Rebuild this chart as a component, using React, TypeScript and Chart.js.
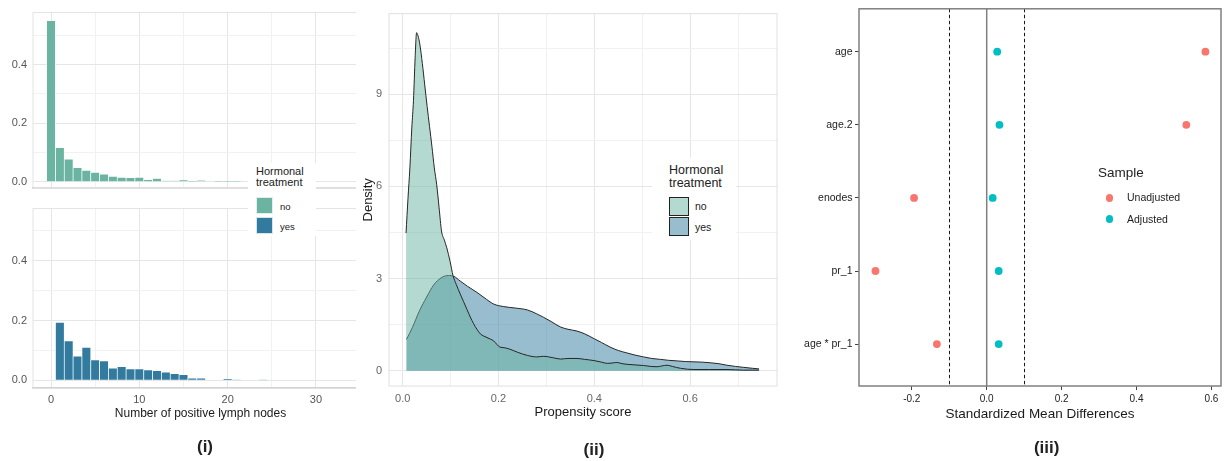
import React, { useEffect, useRef } from 'react';
import { Chart, registerables } from 'chart.js';

Chart.register(...registerables);

const FONT = '"Liberation Sans", Arial, Helvetica, sans-serif';
Chart.defaults.font.family = FONT;

// ---------- Panel (i): histograms of positive lymph nodes ----------
const lymphNodes = [0, 1, 2, 3, 4, 5, 6, 7, 8, 9, 10, 11, 12, 13, 14, 15, 16, 17, 18, 19, 20, 21, 22, 23, 24];
const freqNo = [0.55, 0.116, 0.077, 0.048, 0.039, 0.032, 0.026, 0.018, 0.015, 0.014, 0.015, 0.007, 0.011, 0.003, 0.003, 0.006, 0.001, 0.004, 0, 0.001, 0.001, 0.001, 0, 0, 0.001];
const freqYes = [0, 0.194, 0.132, 0.081, 0.11, 0.068, 0.065, 0.041, 0.046, 0.038, 0.038, 0.035, 0.032, 0.027, 0.022, 0.019, 0.007, 0.007, 0, 0, 0.004, 0.001, 0, 0, 0.001];
const lymphXMajor = [0, 10, 20, 30];
const lymphXMinor = [5, 15, 25, 35];
const histYMajor = [0, 0.2, 0.4];
const histYMinor = [0.1, 0.3, 0.5];
const treatmentLabels = ['no', 'yes'];

// ---------- Panel (ii): propensity score densities ----------
const psNoX = [0.007, 0.011, 0.015, 0.019, 0.0225, 0.026, 0.029, 0.032, 0.036, 0.041, 0.046, 0.051, 0.056, 0.061, 0.066, 0.071, 0.076, 0.081, 0.087, 0.092, 0.099, 0.105, 0.112, 0.12, 0.127, 0.134, 0.141, 0.148, 0.155, 0.162, 0.169, 0.176, 0.183, 0.19, 0.197, 0.203, 0.212, 0.224, 0.24, 0.26, 0.28, 0.294, 0.315, 0.33, 0.345, 0.364, 0.38, 0.4, 0.415, 0.427, 0.437, 0.447, 0.458, 0.468, 0.485, 0.503, 0.518, 0.531, 0.542, 0.552, 0.563, 0.58, 0.608, 0.64, 0.677, 0.712, 0.744];
const psNoY = [4.48, 5.6, 6.6, 7.9, 8.8, 10.2, 11.0, 10.9, 10.6, 10.0, 9.3, 8.6, 7.95, 7.3, 6.6, 6.05, 5.3, 4.55, 4.25, 4.0, 3.55, 3.1, 2.8, 2.5, 2.25, 2.0, 1.75, 1.53, 1.35, 1.2, 1.13, 1.08, 1.03, 0.97, 0.85, 0.77, 0.75, 0.7, 0.6, 0.5, 0.45, 0.47, 0.42, 0.38, 0.4, 0.4, 0.37, 0.33, 0.28, 0.24, 0.25, 0.27, 0.23, 0.21, 0.19, 0.17, 0.14, 0.13, 0.16, 0.18, 0.14, 0.08, 0.04, 0.04, 0.04, 0.02, 0.02];
const psYesX = [0.008, 0.02, 0.035, 0.05, 0.065, 0.08, 0.095, 0.107, 0.12, 0.135, 0.155, 0.17, 0.19, 0.21, 0.235, 0.26, 0.28, 0.294, 0.31, 0.33, 0.345, 0.364, 0.38, 0.4, 0.415, 0.433, 0.45, 0.468, 0.485, 0.503, 0.52, 0.538, 0.555, 0.573, 0.59, 0.608, 0.625, 0.642, 0.66, 0.677, 0.695, 0.712, 0.73, 0.744];
const psYesY = [1.02, 1.4, 1.95, 2.4, 2.8, 3.02, 3.1, 3.07, 2.92, 2.75, 2.55, 2.38, 2.17, 2.09, 2.04, 1.98, 1.85, 1.74, 1.6, 1.42, 1.35, 1.29, 1.2, 1.04, 0.92, 0.77, 0.66, 0.58, 0.51, 0.45, 0.4, 0.37, 0.34, 0.32, 0.3, 0.29, 0.28, 0.26, 0.23, 0.18, 0.14, 0.11, 0.08, 0.06];
const psXMajor = [0, 0.2, 0.4, 0.6];
const psXMinor = [0.1, 0.3, 0.5, 0.7];
const densYMajor = [0, 3, 6, 9];
const densYMinor = [1.5, 4.5, 7.5, 10.5];

// ---------- Panel (iii): love plot ----------
const covariates = ['age', 'age.2', 'enodes', 'pr_1', 'age * pr_1'];
const smdUnadjusted = [0.584, 0.533, -0.194, -0.297, -0.133];
const smdAdjusted = [0.028, 0.034, 0.016, 0.032, 0.032];
const smdTicks = [-0.2, 0, 0.2, 0.4, 0.6];
const smdThresholds = [-0.1, 0.1];
const sampleLabels = ['Unadjusted', 'Adjusted'];

// ---------- colours ----------
const COL_NO = '#6ab4a1';
const COL_YES = '#327b9f';
const FILL_NO = 'rgba(105,179,162,0.5)';
const FILL_YES = 'rgba(50,123,159,0.5)';
const COL_UNADJ = '#F8766D';
const COL_ADJ = '#00BFC4';
const GRID_MAJOR = '#e6e6e6';
const GRID_MINOR = '#f1f1f1';

const setTicks = (vals: number[]) => (scale: any) => {
  scale.ticks = vals.slice().sort((a, b) => a - b).map((v) => ({ value: v }));
};
const gridColor = (major: number[]) => (ctx: any) =>
  ctx.tick && major.includes(ctx.tick.value) ? GRID_MAJOR : GRID_MINOR;

const panelBox = {
  id: 'panelBox',
  beforeDatasetsDraw(chart: any, _a: any, opts: any) {
    if (!opts || !opts.color) return;
    const { ctx, chartArea: a } = chart;
    ctx.save();
    ctx.strokeStyle = opts.color;
    ctx.lineWidth = opts.width || 1;
    ctx.strokeRect(a.left, a.top, a.right - a.left, a.bottom - a.top);
    ctx.restore();
  },
};

const smdRefLines = {
  id: 'smdRefLines',
  beforeDatasetsDraw(chart: any) {
    const { ctx, chartArea: a, scales } = chart;
    const x = scales.x;
    ctx.save();
    const x0 = x.getPixelForValue(0);
    ctx.strokeStyle = '#808080';
    ctx.lineWidth = 1.5;
    ctx.beginPath();
    ctx.moveTo(x0, a.top);
    ctx.lineTo(x0, a.bottom);
    ctx.stroke();
    ctx.strokeStyle = '#1a1a1a';
    ctx.lineWidth = 1;
    ctx.setLineDash([3.5, 2.5]);
    smdThresholds.forEach((t) => {
      const px = Math.round(x.getPixelForValue(t)) + 0.5;
      ctx.beginPath();
      ctx.moveTo(px, a.top);
      ctx.lineTo(px, a.bottom);
      ctx.stroke();
    });
    ctx.restore();
  },
  afterDatasetsDraw(chart: any) {
    const { ctx, chartArea: a } = chart;
    ctx.save();
    ctx.strokeStyle = '#808080';
    ctx.lineWidth = 1.5;
    ctx.strokeRect(a.left, a.top, a.right - a.left, a.bottom - a.top);
    ctx.restore();
  },
};

function histConfig(values: number[], color: string, top: number, showX: boolean, yMin: number, yMax: number, H: number, B: number): any {
  return {
    type: 'bar',
    data: {
      datasets: [
        {
          data: lymphNodes.map((n, i) => ({ x: n, y: values[i] })),
          backgroundColor: color,
          borderColor: 'rgba(255,255,255,0.9)',
          borderWidth: 0.7,
          barPercentage: 1,
          categoryPercentage: 1,
        },
      ],
    },
    plugins: [panelBox],
    options: {
      responsive: false,
      animation: false,
      events: [],
      layout: { padding: { left: 0, top, right: 2, bottom: 0 } },
      plugins: {
        legend: { display: false },
        tooltip: { enabled: false },
        panelBox: { color: '#e3e3e3', width: 1 },
      },
      scales: {
        x: {
          type: 'linear',
          min: -2.04,
          max: 35.89,
          offset: false,
          afterBuildTicks: setTicks([...lymphXMajor, ...lymphXMinor]),
          afterFit: (s: any) => {
            s.height = H - B;
          },
          grid: { color: gridColor(lymphXMajor), drawTicks: false, offset: false },
          border: { display: true, color: '#c2c2c2', width: 1.5 },
          ticks: {
            display: showX,
            autoSkip: false,
            maxRotation: 0,
            padding: 5,
            color: '#555',
            font: { size: 11 },
            callback: (v: number) => (lymphXMajor.includes(v) ? String(v) : ''),
          },
          title: {
            display: showX,
            text: 'Number of positive lymph nodes',
            color: '#1a1a1a',
            font: { size: 12 },
            padding: { top: 0, bottom: 40 },
          },
        },
        y: {
          type: 'linear',
          min: yMin,
          max: yMax,
          afterBuildTicks: setTicks([...histYMajor, ...histYMinor]),
          afterFit: (s: any) => {
            s.width = 33;
          },
          grid: { color: gridColor(histYMajor), drawTicks: false },
          border: { display: false },
          ticks: {
            autoSkip: false,
            padding: 6,
            color: '#555',
            font: { size: 11 },
            callback: (v: number) => (histYMajor.includes(v) ? v.toFixed(1) : ''),
          },
        },
      },
    },
  };
}

function densityConfig(): any {
  return {
    type: 'line',
    data: {
      datasets: [
        {
          label: treatmentLabels[0],
          data: psNoX.map((x, i) => ({ x, y: psNoY[i] })),
          borderColor: '#262626',
          borderWidth: 1,
          backgroundColor: FILL_NO,
          fill: 'origin',
          pointRadius: 0,
          cubicInterpolationMode: 'monotone',
        },
        {
          label: treatmentLabels[1],
          data: psYesX.map((x, i) => ({ x, y: psYesY[i] })),
          borderColor: '#262626',
          borderWidth: 1,
          backgroundColor: FILL_YES,
          fill: 'origin',
          pointRadius: 0,
          cubicInterpolationMode: 'monotone',
        },
      ],
    },
    plugins: [panelBox],
    options: {
      responsive: false,
      animation: false,
      events: [],
      layout: { padding: { left: 0, top: 12, right: 3, bottom: 0 } },
      plugins: {
        legend: { display: false },
        tooltip: { enabled: false },
        panelBox: { color: '#e0e0e0', width: 1 },
      },
      scales: {
        x: {
          type: 'linear',
          min: -0.0286,
          max: 0.7814,
          afterBuildTicks: setTicks([...psXMajor, ...psXMinor]),
          afterFit: (s: any) => {
            s.height = 44;
          },
          grid: { color: gridColor(psXMajor), drawTicks: false },
          border: { display: false },
          ticks: {
            autoSkip: false,
            maxRotation: 0,
            padding: 6,
            color: '#666',
            font: { size: 11 },
            callback: (v: number) => (psXMajor.includes(v) ? v.toFixed(1) : ''),
          },
          title: {
            display: true,
            text: 'Propensity score',
            color: '#1a1a1a',
            font: { size: 13 },
            padding: { top: 0, bottom: 9.5 },
          },
        },
        y: {
          type: 'linear',
          min: -0.496,
          max: 11.62,
          afterBuildTicks: setTicks([...densYMajor, ...densYMinor]),
          afterFit: (s: any) => {
            s.width = 33;
          },
          grid: { color: gridColor(densYMajor), drawTicks: false },
          border: { display: false },
          ticks: {
            autoSkip: false,
            padding: 7,
            color: '#666',
            font: { size: 11 },
            callback: (v: number) => (densYMajor.includes(v) ? String(v) : ''),
          },
          title: {
            display: true,
            text: 'Density',
            color: '#1a1a1a',
            font: { size: 13 },
            padding: { top: 4.5, bottom: 0 },
          },
        },
      },
    },
  };
}

function loveConfig(): any {
  return {
    type: 'scatter',
    data: {
      datasets: [
        {
          label: sampleLabels[0],
          data: smdUnadjusted.map((v, i) => ({ x: v, y: i })),
          backgroundColor: COL_UNADJ,
          borderWidth: 0,
          pointRadius: 3.9,
        },
        {
          label: sampleLabels[1],
          data: smdAdjusted.map((v, i) => ({ x: v, y: i })),
          backgroundColor: COL_ADJ,
          borderWidth: 0,
          pointRadius: 3.9,
        },
      ],
    },
    plugins: [smdRefLines],
    options: {
      responsive: false,
      animation: false,
      events: [],
      layout: { padding: { left: 0, top: 8, right: 6, bottom: 0 } },
      plugins: { legend: { display: false }, tooltip: { enabled: false } },
      scales: {
        x: {
          type: 'linear',
          min: -0.341,
          max: 0.6256,
          afterBuildTicks: setTicks(smdTicks),
          afterFit: (s: any) => {
            s.height = 75;
          },
          grid: { drawOnChartArea: false, drawTicks: true, tickLength: 4, color: '#444', lineWidth: 1 },
          border: { display: false },
          ticks: {
            autoSkip: false,
            maxRotation: 0,
            padding: 3,
            color: '#222',
            font: { size: 10 },
            callback: (v: number) => v.toFixed(1),
          },
          title: {
            display: true,
            text: 'Standardized Mean Differences',
            color: '#1a1a1a',
            font: { size: 13.5 },
            padding: { top: 0, bottom: 38.5 },
          },
        },
        y: {
          type: 'linear',
          reverse: true,
          min: -0.587,
          max: 4.573,
          afterBuildTicks: setTicks(covariates.map((_, i) => i)),
          afterFit: (s: any) => {
            s.width = 69;
          },
          grid: { drawOnChartArea: false, drawTicks: true, tickLength: 4, color: '#444', lineWidth: 1 },
          border: { display: false },
          ticks: {
            autoSkip: false,
            padding: 2.5,
            color: '#222',
            font: { size: 10.5 },
            callback: (v: number) => covariates[v] ?? '',
          },
        },
      },
    },
  };
}

function ChartCanvas({ left, top, width, height, make, bg }: { left: number; top: number; width: number; height: number; make: () => any; bg?: string }) {
  const ref = useRef<HTMLCanvasElement>(null);
  useEffect(() => {
    const chart = new Chart(ref.current as HTMLCanvasElement, make());
    return () => chart.destroy();
  }, []);
  return (
    <canvas
      ref={ref}
      width={width}
      height={height}
      style={{ position: 'absolute', left, top, width, height, background: bg || 'transparent', display: 'block' }}
    />
  );
}

function Txt({ x, y, size, children, bold, color, center, baseline }: any) {
  const lh = size * 1.2;
  const topPos = baseline ? y - size * 0.93 : y - size * 0.6;
  return (
    <div
      style={{
        position: 'absolute',
        left: center ? x - 150 : x,
        width: center ? 300 : undefined,
        top: topPos,
        height: lh,
        lineHeight: `${lh}px`,
        fontSize: size,
        fontFamily: FONT,
        fontWeight: bold ? 700 : 400,
        color: color || '#1a1a1a',
        textAlign: center ? 'center' : 'left',
        whiteSpace: 'nowrap',
      }}
    >
      {children}
    </div>
  );
}

const box = (l: number, t: number, w: number, h: number, extra: any = {}) => (
  <div style={{ position: 'absolute', left: l, top: t, width: w, height: h, boxSizing: 'border-box', ...extra }} />
);

export default function App() {
  return (
    <div style={{ position: 'absolute', left: 0, top: 0, width: 1227, height: 461, background: '#fff', overflow: 'hidden' }}>
      {/* Panel (i) */}
      <ChartCanvas left={0} top={0} width={370} height={200} make={() => histConfig(freqNo, COL_NO, 8, false, -0.0194, 0.5774, 200, 193)} />
      <ChartCanvas left={0} top={196} width={370} height={265} make={() => histConfig(freqYes, COL_YES, 6, true, -0.0258, 0.5742, 265, 192)} />
      {/* Panel (ii) */}
      <ChartCanvas left={356} top={0} width={424} height={430} make={densityConfig} bg="#fff" />
      {/* Panel (iii) */}
      <ChartCanvas left={790} top={0} width={437} height={461} make={loveConfig} />

      {/* Legend (i) */}
      {box(248, 163, 68, 73, { background: '#fff' })}
      <Txt x={256} y={175} size={11} baseline color="#222">Hormonal</Txt>
      <Txt x={256} y={186} size={11} baseline color="#222">treatment</Txt>
      {box(256, 197, 17, 17, { background: COL_NO, border: '1px solid rgba(255,255,255,0.8)' })}
      {box(256, 217, 17, 17, { background: COL_YES, border: '1px solid rgba(255,255,255,0.8)' })}
      <Txt x={280} y={207} size={9.5} color="#222">{treatmentLabels[0]}</Txt>
      <Txt x={280} y={226.5} size={9.5} color="#222">{treatmentLabels[1]}</Txt>

      {/* Legend (ii) */}
      {box(652, 158, 84, 82, { background: '#fff' })}
      <Txt x={669} y={175} size={12.5} baseline color="#222">Hormonal</Txt>
      <Txt x={669} y={187.3} size={12.5} baseline color="#222">treatment</Txt>
      {box(669, 196.5, 20, 19.5, { background: '#b4d9d0', border: '1.5px solid #222' })}
      {box(669, 216.5, 20, 19.5, { background: '#98bdcf', border: '1.5px solid #222' })}
      <Txt x={695} y={206.5} size={10.5} color="#222">{treatmentLabels[0]}</Txt>
      <Txt x={695} y={227} size={10.5} color="#222">{treatmentLabels[1]}</Txt>

      {/* Legend (iii) */}
      <Txt x={1098} y={173.3} size={13.5} color="#222">Sample</Txt>
      {box(1105.5, 194, 7.6, 7.6, { background: COL_UNADJ, borderRadius: '50%' })}
      {box(1105.5, 215.2, 7.6, 7.6, { background: COL_ADJ, borderRadius: '50%' })}
      <Txt x={1127} y={197.7} size={10.5} color="#222">{sampleLabels[0]}</Txt>
      <Txt x={1127} y={219} size={10.5} color="#222">{sampleLabels[1]}</Txt>

      {/* Panel labels */}
      <Txt x={205} y={446.7} size={17} bold center color="#222">(i)</Txt>
      <Txt x={594} y={450} size={17} bold center color="#222">(ii)</Txt>
      <Txt x={1046.7} y={448} size={17} bold center color="#222">(iii)</Txt>
    </div>
  );
}
